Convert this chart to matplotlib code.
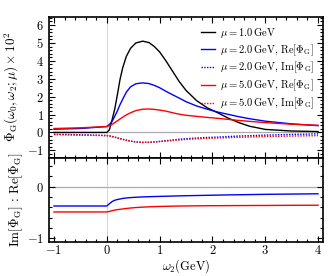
import matplotlib
matplotlib.use("Agg")
import matplotlib.pyplot as plt
from matplotlib.ticker import FuncFormatter, MultipleLocator

plt.rcParams['mathtext.fontset'] = 'cm'
plt.rcParams['font.family'] = 'serif'
plt.rcParams['font.serif'] = ['DejaVu Serif']

# omega_2 grid (GeV) at which values were read
w = [-1.0, -0.5, 0.0, 0.05, 0.1, 0.15, 0.2, 0.25, 0.3, 0.37, 0.45, 0.55, 0.68,
     0.8, 0.9, 1.0, 1.12, 1.25, 1.37, 1.5, 1.7, 1.9, 2.1, 2.3, 2.5, 2.7, 3.0, 3.5, 4.0]

# mu = 1.0 GeV (x 10^2)
phi_mu1 = [0.0, 0.0, 0.0, 0.15, 0.7, 1.3, 2.1, 2.95, 3.6, 4.25, 4.7, 5.0, 5.1,
           5.02, 4.8, 4.5, 4.0, 3.4, 2.85, 2.35, 1.78, 1.38, 1.1, 0.8, 0.55, 0.35, 0.17, 0.08, 0.05]

# mu = 2.0 GeV
re_mu2 = [0.18, 0.22, 0.33, 0.45, 0.62, 0.9, 1.2, 1.55, 1.85, 2.25, 2.55, 2.72, 2.77,
          2.73, 2.63, 2.5, 2.3, 2.1, 1.92, 1.72, 1.48, 1.3, 1.14, 1.01, 0.88, 0.77, 0.63, 0.48, 0.38]
im_mu2 = [-0.10, -0.13, -0.17, -0.19, -0.22, -0.26, -0.30, -0.34, -0.38, -0.43, -0.48, -0.53, -0.56,
          -0.55, -0.53, -0.50, -0.46, -0.42, -0.38, -0.35, -0.31, -0.28, -0.26, -0.23, -0.20, -0.18, -0.15, -0.11, -0.08]

# mu = 5.0 GeV
re_mu5 = [0.22, 0.26, 0.33, 0.38, 0.45, 0.55, 0.65, 0.75, 0.85, 0.98, 1.1, 1.22, 1.3,
          1.31, 1.29, 1.25, 1.19, 1.1, 1.02, 0.96, 0.9, 0.84, 0.79, 0.73, 0.67, 0.62, 0.55, 0.46, 0.40]
im_mu5 = [-0.12, -0.15, -0.18, -0.20, -0.23, -0.27, -0.31, -0.35, -0.39, -0.44, -0.49, -0.53, -0.55,
          -0.55, -0.53, -0.51, -0.48, -0.45, -0.42, -0.39, -0.36, -0.33, -0.31, -0.29, -0.27, -0.25, -0.23, -0.20, -0.18]

# ratio Im/Re
ratio_mu2 = [-0.375, -0.375, -0.375, -0.33, -0.29, -0.265, -0.25, -0.24, -0.23, -0.22, -0.213, -0.207, -0.2,
             -0.196, -0.193, -0.19, -0.187, -0.183, -0.18, -0.177, -0.173, -0.169, -0.165, -0.161, -0.158, -0.155, -0.15, -0.145, -0.14]
ratio_mu5 = [-0.49, -0.49, -0.49, -0.48, -0.465, -0.455, -0.445, -0.44, -0.432, -0.423, -0.414, -0.405, -0.397,
             -0.391, -0.387, -0.384, -0.381, -0.378, -0.376, -0.374, -0.372, -0.37, -0.369, -0.368, -0.367, -0.366, -0.365, -0.362, -0.36]

labels = [r'$\mu = 1.0\,\mathrm{GeV}$',
          r'$\mu = 2.0\,\mathrm{GeV},\,\mathrm{Re}[\Phi_\mathrm{G}]$',
          r'$\mu = 2.0\,\mathrm{GeV},\,\mathrm{Im}[\Phi_\mathrm{G}]$',
          r'$\mu = 5.0\,\mathrm{GeV},\,\mathrm{Re}[\Phi_\mathrm{G}]$',
          r'$\mu = 5.0\,\mathrm{GeV},\,\mathrm{Im}[\Phi_\mathrm{G}]$']

fig = plt.figure(figsize=(3.32, 2.76), dpi=100)
ax1 = fig.add_axes([0.1467, 0.4293, 0.8271, 0.5091])
ax2 = fig.add_axes([0.1467, 0.125, 0.8271, 0.3043], sharex=ax1)

dot = (0, (1, 1))
for ax in (ax1, ax2):
    ax.axhline(0, color='#aaaaaa', lw=0.9, zorder=1)
    ax.axvline(0, color='#cccccc', lw=0.6, zorder=1)

ax1.plot(w, phi_mu1, color='black', lw=1.0, label=labels[0])
ax1.plot(w, re_mu2, color='blue', lw=1.0, label=labels[1])
ax1.plot(w, im_mu2, color='blue', lw=1.0, ls=dot, label=labels[2])
ax1.plot(w, re_mu5, color='red', lw=1.0, label=labels[3])
ax1.plot(w, im_mu5, color='red', lw=1.0, ls=dot, label=labels[4])

ax2.plot(w, ratio_mu2, color='blue', lw=1.0)
ax2.plot(w, ratio_mu5, color='red', lw=1.0)

ax1.set_xlim(-1.1, 4.1)
ax1.set_ylim(-1.4, 6.45)
ax2.set_ylim(-1.06, 0.56)

fmt = FuncFormatter(lambda v, p: r'$%g$' % v)
ax1.xaxis.set_major_locator(MultipleLocator(1))
ax1.xaxis.set_minor_locator(MultipleLocator(0.2))
ax1.yaxis.set_major_locator(MultipleLocator(1))
ax1.yaxis.set_minor_locator(MultipleLocator(0.2))
ax2.yaxis.set_major_locator(MultipleLocator(1))
ax2.yaxis.set_minor_locator(MultipleLocator(0.2))
ax1.yaxis.set_major_formatter(fmt)
ax2.yaxis.set_major_formatter(fmt)
ax2.xaxis.set_major_formatter(fmt)

for ax in (ax1, ax2):
    ax.tick_params(which='both', direction='in', top=True, right=True, labelsize=9, width=0.8)
    ax.tick_params(which='major', length=4)
    ax.tick_params(which='minor', length=2)
    for s in ax.spines.values():
        s.set_linewidth(1.2)
ax1.tick_params(labelbottom=False)
ax2.tick_params(axis='x', pad=2)

ax1.set_ylabel(r'$\Phi_\mathrm{G}(\omega_0,\omega_2;\mu)\times 10^2$', fontsize=9.5, labelpad=4)
ax2.set_ylabel(r'$\mathrm{Im}[\Phi_\mathrm{G}]\,:\,\mathrm{Re}[\Phi_\mathrm{G}]$', fontsize=9.5, labelpad=1)
ax2.set_xlabel(r'$\omega_2(\mathrm{GeV})$', fontsize=9, labelpad=0)

ax1.legend(loc='upper right', frameon=False, fontsize=7.6, handlelength=1.3,
           handletextpad=0.5, labelspacing=0.22, borderaxespad=0.5, borderpad=0.35)

fig.savefig('out.png', dpi=100)
